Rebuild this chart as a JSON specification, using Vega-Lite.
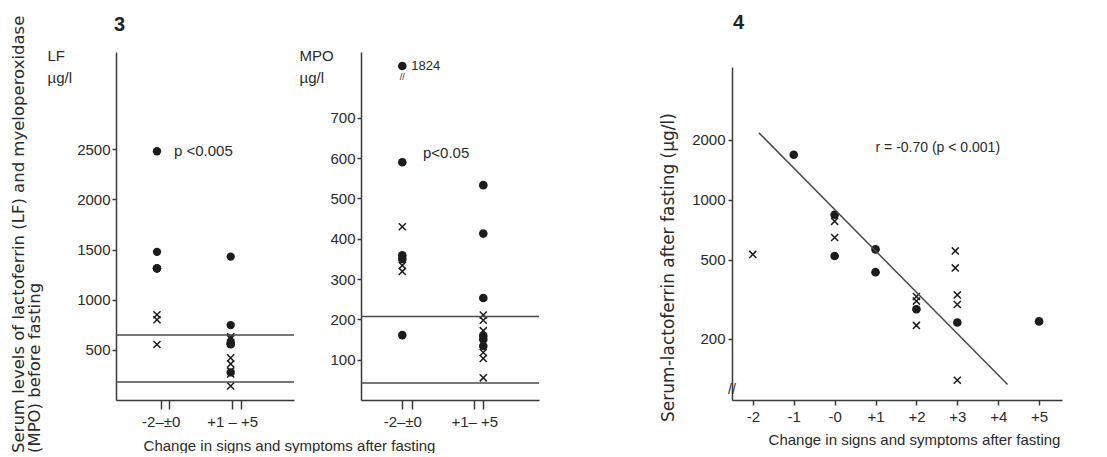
{
  "$schema": "https://vega.github.io/schema/vega-lite/v6.json",
  "background": "white",
  "padding": {"left": 10, "top": 13, "right": 5, "bottom": 0},
  "title": {
    "text": ["Serum levels of lactoferrin (LF) and myeloperoxidase", "(MPO) before fasting"],
    "orient": "left", "anchor": "start", "fontSize": 16.5, "font": "DejaVu Sans", "fontWeight": "normal",
    "lineHeight": 16, "offset": 4, "color": "#2a2a2a"
  },
  "datasets": {
    "lf": [
      {"group": 1, "value": 2480, "marker": "dot"},
      {"group": 1, "value": 1477, "marker": "dot"},
      {"group": 1, "value": 1313, "marker": "dot"},
      {"group": 1, "value": 1313, "marker": "dot"},
      {"group": 1, "value": 1313, "marker": "dot"},
      {"group": 1, "value": 850, "marker": "x"},
      {"group": 1, "value": 800, "marker": "x"},
      {"group": 1, "value": 553, "marker": "x"},
      {"group": 2, "value": 1430, "marker": "dot"},
      {"group": 2, "value": 747, "marker": "dot"},
      {"group": 2, "value": 630, "marker": "x"},
      {"group": 2, "value": 610, "marker": "x"},
      {"group": 2, "value": 570, "marker": "dot"},
      {"group": 2, "value": 560, "marker": "dot"},
      {"group": 2, "value": 555, "marker": "dot"},
      {"group": 2, "value": 565, "marker": "x"},
      {"group": 2, "value": 420, "marker": "x"},
      {"group": 2, "value": 360, "marker": "x"},
      {"group": 2, "value": 275, "marker": "dot"},
      {"group": 2, "value": 290, "marker": "x"},
      {"group": 2, "value": 260, "marker": "x"},
      {"group": 2, "value": 140, "marker": "x"}
    ],
    "mpo": [
      {"group": 1, "value": 1824, "marker": "dot"},
      {"group": 1, "value": 590, "marker": "dot"},
      {"group": 1, "value": 430, "marker": "x"},
      {"group": 1, "value": 359, "marker": "dot"},
      {"group": 1, "value": 350, "marker": "dot"},
      {"group": 1, "value": 334, "marker": "x"},
      {"group": 1, "value": 319, "marker": "x"},
      {"group": 1, "value": 161, "marker": "dot"},
      {"group": 2, "value": 533, "marker": "dot"},
      {"group": 2, "value": 413, "marker": "dot"},
      {"group": 2, "value": 253, "marker": "dot"},
      {"group": 2, "value": 211, "marker": "x"},
      {"group": 2, "value": 198, "marker": "x"},
      {"group": 2, "value": 172, "marker": "x"},
      {"group": 2, "value": 159, "marker": "dot"},
      {"group": 2, "value": 150, "marker": "dot"},
      {"group": 2, "value": 134, "marker": "dot"},
      {"group": 2, "value": 118, "marker": "x"},
      {"group": 2, "value": 103, "marker": "x"},
      {"group": 2, "value": 55, "marker": "x"}
    ],
    "fast": [
      {"change": -2, "value": 532, "marker": "x"},
      {"change": -1, "value": 1684, "marker": "dot"},
      {"change": 0, "value": 842, "marker": "dot"},
      {"change": 0, "value": 780, "marker": "x"},
      {"change": 0, "value": 647, "marker": "x"},
      {"change": 0, "value": 522, "marker": "dot"},
      {"change": 1, "value": 564, "marker": "dot"},
      {"change": 1, "value": 433, "marker": "dot"},
      {"change": 2, "value": 327, "marker": "x"},
      {"change": 2, "value": 310, "marker": "x"},
      {"change": 2, "value": 282, "marker": "dot"},
      {"change": 2, "value": 234, "marker": "x"},
      {"change": 2.95, "value": 554, "marker": "x"},
      {"change": 2.95, "value": 455, "marker": "x"},
      {"change": 3, "value": 333, "marker": "x"},
      {"change": 3, "value": 298, "marker": "x"},
      {"change": 3, "value": 242, "marker": "dot"},
      {"change": 3, "value": 124, "marker": "x"},
      {"change": 5, "value": 245, "marker": "dot"}
    ],
    "lfref": [{"level": 647}, {"level": 180}],
    "mporef": [{"level": 207}, {"level": 42}],
    "fit": [{"change": -1.85, "value": 2170}, {"change": 4.23, "value": 118}]
  },
  "hconcat": [
    {
      "width": 178, "height": 348,
      "title": {"text": "3", "anchor": "start", "dx": 67, "fontSize": 20, "fontWeight": "bold", "offset": 13},
      "layer": [
        {
          "data": {"name": "lf"},
          "transform": [{"filter": "datum.marker === 'dot'"}],
          "mark": {"type": "circle", "size": 70, "color": "#1c1c1c", "opacity": 1},
          "encoding": {
            "x": {"field": "group", "type": "quantitative",
              "scale": {"domain": [0.444, 2.859], "nice": false, "zero": false},
              "axis": {"values": [1.05, 1.16, 2.02, 2.14], "labelExpr": "datum.value < 1.1 ? '-2–±0' : (datum.value > 2 && datum.value < 2.1 ? '+1 – +5' : '')", "title": null, "tickSize": 9, "labelPadding": 5, "labelOverlap": false}},
            "y": {"field": "value", "type": "quantitative",
              "scale": {"domain": [0, 3470], "nice": false, "zero": false},
              "axis": {"values": [500, 1000, 1500, 2000, 2500], "format": "d", "title": ["LF", "µg/l"], "titleAngle": 0, "titleX": -69, "titleY": -4, "titleAlign": "left", "titleBaseline": "top", "titleLineHeight": 22, "tickSize": 4, "labelPadding": 2}}
          }
        },
        {
          "data": {"name": "lf"},
          "transform": [{"filter": "datum.marker === 'x'"}],
          "mark": {"type": "point", "shape": "M-1,-1L1,1M-1,1L1,-1", "size": 50, "filled": false, "stroke": "#1c1c1c", "strokeWidth": 1.5, "opacity": 1},
          "encoding": {
            "x": {"field": "group", "type": "quantitative"},
            "y": {"field": "value", "type": "quantitative"}
          }
        },
        {
          "data": {"name": "lfref"},
          "mark": {"type": "rule", "color": "#4a4a4a", "strokeWidth": 1.5},
          "encoding": {"y": {"field": "level", "type": "quantitative"}}
        },
        {
          "data": {"values": [{}]},
          "mark": {"type": "text", "align": "left", "baseline": "middle", "fontSize": 15},
          "encoding": {"x": {"datum": 1.23}, "y": {"datum": 2480}, "text": {"value": "p <0.005"}}
        }
      ]
    },
    {
      "width": 178, "height": 348,
      "layer": [
        {
          "data": {"name": "mpo"},
          "transform": [{"filter": "datum.marker === 'dot'"}],
          "mark": {"type": "circle", "size": 75, "color": "#1c1c1c", "opacity": 1},
          "encoding": {
            "x": {"field": "group", "type": "quantitative",
              "scale": {"domain": [0.49, 2.688], "nice": false, "zero": false},
              "axis": {"values": [1.0, 1.123, 1.889, 2.0], "labelExpr": "datum.value < 1.05 ? '-2–±0' : (datum.value > 1.8 && datum.value < 1.95 ? '+1– +5' : '')", "title": "Change in signs and symptoms after fasting", "titleX": -72, "titleY": 38, "titleBaseline": "top", "tickSize": 9, "labelPadding": 5, "labelOverlap": false}},
            "y": {"field": "value", "type": "quantitative",
              "scale": {"domain": [0, 790, 1824, 2200], "range": [348, 29.6, 14, 0], "nice": false, "zero": false},
              "axis": {"values": [100, 200, 300, 400, 500, 600, 700], "format": "d", "title": ["MPO", "µg/l"], "titleAngle": 0, "titleX": -62, "titleY": -4, "titleAlign": "left", "titleBaseline": "top", "titleLineHeight": 22, "tickSize": 4, "labelPadding": 2}}
          }
        },
        {
          "data": {"name": "mpo"},
          "transform": [{"filter": "datum.marker === 'x'"}],
          "mark": {"type": "point", "shape": "M-1,-1L1,1M-1,1L1,-1", "size": 50, "filled": false, "stroke": "#1c1c1c", "strokeWidth": 1.5, "opacity": 1},
          "encoding": {
            "x": {"field": "group", "type": "quantitative"},
            "y": {"field": "value", "type": "quantitative"}
          }
        },
        {
          "data": {"name": "mpo"},
          "transform": [{"filter": "datum.value > 1000"}],
          "mark": {"type": "text", "align": "left", "baseline": "middle", "dx": 9, "fontSize": 13},
          "encoding": {
            "x": {"field": "group", "type": "quantitative"},
            "y": {"field": "value", "type": "quantitative"},
            "text": {"field": "value"}
          }
        },
        {
          "data": {"name": "mpo"},
          "transform": [{"filter": "datum.value > 1000"}],
          "mark": {"type": "text", "align": "center", "baseline": "middle", "dy": 11, "fontSize": 9},
          "encoding": {
            "x": {"field": "group", "type": "quantitative"},
            "y": {"field": "value", "type": "quantitative"},
            "text": {"value": "//"}
          }
        },
        {
          "data": {"name": "mporef"},
          "mark": {"type": "rule", "color": "#4a4a4a", "strokeWidth": 1.5},
          "encoding": {"y": {"field": "level", "type": "quantitative"}}
        },
        {
          "data": {"values": [{}]},
          "mark": {"type": "text", "align": "left", "baseline": "middle", "fontSize": 15},
          "encoding": {"x": {"datum": 1.255}, "y": {"datum": 613}, "text": {"value": "p<0.05"}}
        }
      ]
    },
    {
      "width": 59, "height": 348,
      "data": {"values": []},
      "mark": "point"
    },
    {
      "width": 330, "height": 348,
      "title": {"text": "4", "anchor": "start", "dx": 74, "fontSize": 20, "fontWeight": "bold", "offset": 19},
      "layer": [
        {
          "data": {"name": "fast"},
          "transform": [{"filter": "datum.marker === 'dot'"}],
          "mark": {"type": "circle", "size": 75, "color": "#1c1c1c", "opacity": 1},
          "encoding": {
            "x": {"field": "change", "type": "quantitative",
              "scale": {"domain": [-2.51, 5.56], "nice": false, "zero": false},
              "axis": {"values": [-2, -1, 0, 1, 2, 3, 4, 5], "labelExpr": "datum.value > 0 ? '+' + datum.value : '-' + abs(datum.value)", "title": "Change in signs and symptoms after fasting", "titleX": 182, "titleY": 32, "titleBaseline": "top", "tickSize": 5, "labelPadding": 4, "labelOverlap": false}},
            "y": {"field": "value", "type": "quantitative",
              "scale": {"type": "log", "domain": [98.7, 4650], "range": [348, 15], "nice": false, "zero": false},
              "axis": {"values": [200, 500, 1000, 2000], "format": "d", "title": "Serum-lactoferrin after fasting (µg/l)", "titleFont": "DejaVu Sans", "titleFontSize": 17, "titleX": -64, "titleY": 215, "titleAlign": "center", "titleBaseline": "middle", "tickSize": 4, "labelPadding": 3, "labelOverlap": false}}
          }
        },
        {
          "data": {"name": "fast"},
          "transform": [{"filter": "datum.marker === 'x'"}],
          "mark": {"type": "point", "shape": "M-1,-1L1,1M-1,1L1,-1", "size": 50, "filled": false, "stroke": "#1c1c1c", "strokeWidth": 1.5, "opacity": 1},
          "encoding": {
            "x": {"field": "change", "type": "quantitative"},
            "y": {"field": "value", "type": "quantitative"}
          }
        },
        {
          "data": {"name": "fit"},
          "mark": {"type": "line", "color": "#4a4a4a", "strokeWidth": 1.5},
          "encoding": {
            "x": {"field": "change", "type": "quantitative"},
            "y": {"field": "value", "type": "quantitative"}
          }
        },
        {
          "data": {"values": [{}]},
          "mark": {"type": "text", "align": "center", "baseline": "middle", "fontSize": 14},
          "encoding": {"x": {"datum": -2.51}, "y": {"datum": 111}, "text": {"value": "//"}}
        },
        {
          "data": {"values": [{}]},
          "mark": {"type": "text", "align": "left", "baseline": "middle", "fontSize": 14},
          "encoding": {"x": {"datum": 1.0}, "y": {"datum": 1830}, "text": {"value": "r = -0.70 (p < 0.001)"}}
        }
      ]
    }
  ],
  "spacing": 67,
  "bounds": "flush",
  "config": {
    "view": {"stroke": null},
    "font": "Liberation Sans",
    "axis": {"grid": false, "domainColor": "#3a3a3a", "domainWidth": 1.5, "tickColor": "#3a3a3a", "tickWidth": 1.5, "labelColor": "#2a2a2a", "titleColor": "#2a2a2a", "labelFontSize": 15, "titleFontSize": 15, "titleFontWeight": "normal", "labelFont": "Liberation Sans", "titleFont": "Liberation Sans"},
    "title": {"font": "Liberation Sans", "color": "#222"},
    "text": {"font": "Liberation Sans", "color": "#2a2a2a"}
  }
}
